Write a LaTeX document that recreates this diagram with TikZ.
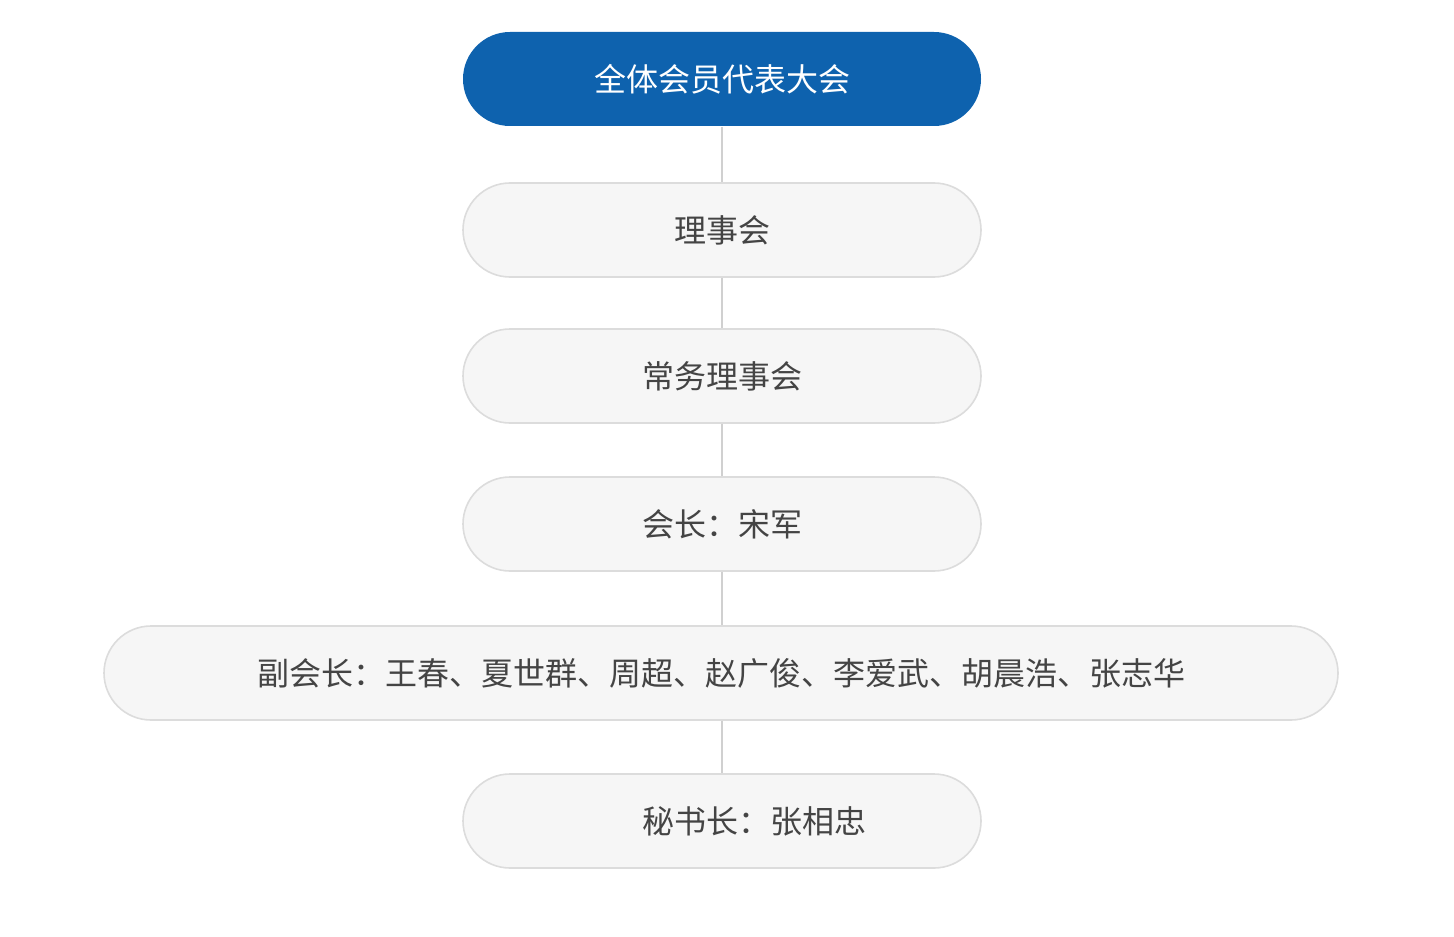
\documentclass[tikz,border=0pt]{standalone}
\usepackage{fontspec}
\setmainfont{Noto Sans CJK SC}
\definecolor{hui}{HTML}{0E62AE}
\definecolor{kuang}{HTML}{DCDCDC}
\definecolor{di}{HTML}{F6F6F6}
\definecolor{zi}{HTML}{444444}
\definecolor{xian}{HTML}{D0D0D0}
\begin{document}
\begin{tikzpicture}[x=0.5pt, y=-0.5pt,
    box/.style={draw=kuang, line width=0.8pt, fill=di, text=zi, rounded corners=23.5pt,
      minimum width=259pt, minimum height=47pt, font=\fontsize{16}{19}\selectfont},
    topbox/.style={box, draw=none, fill=hui, text=white}]
    \useasboundingbox (0, 0) rectangle (1454, 936);

    \node[topbox] (a0) at (722, 79) {全体会员代表大会};
    \node[box] (a1) at (722, 230) {理事会};
    \node[box] (a2) at (722, 376) {常务理事会};
    \node[box] (a3) at (722, 524) {会长：宋军};
    \node[box, minimum width=617pt] (a4) at (721, 673) {副会长：王春、夏世群、周超、赵广俊、李爱武、胡晨浩、张志华};
    \node[box] (a5) at (722, 821) {\hspace*{2em}秘书长：张相忠};

    \draw[xian, line width=0.6pt] (a0.south) -- (a1.north);
    \draw[xian, line width=0.6pt] (a1.south) -- (a2.north);
    \draw[xian, line width=0.6pt] (a2.south) -- (a3.north);
    \draw[xian, line width=0.6pt] (a3.south) -- (a3.south |- a4.north);
    \draw[xian, line width=0.6pt] (a5.north |- a4.south) -- (a5.north);
  \end{tikzpicture}
\end{document}
